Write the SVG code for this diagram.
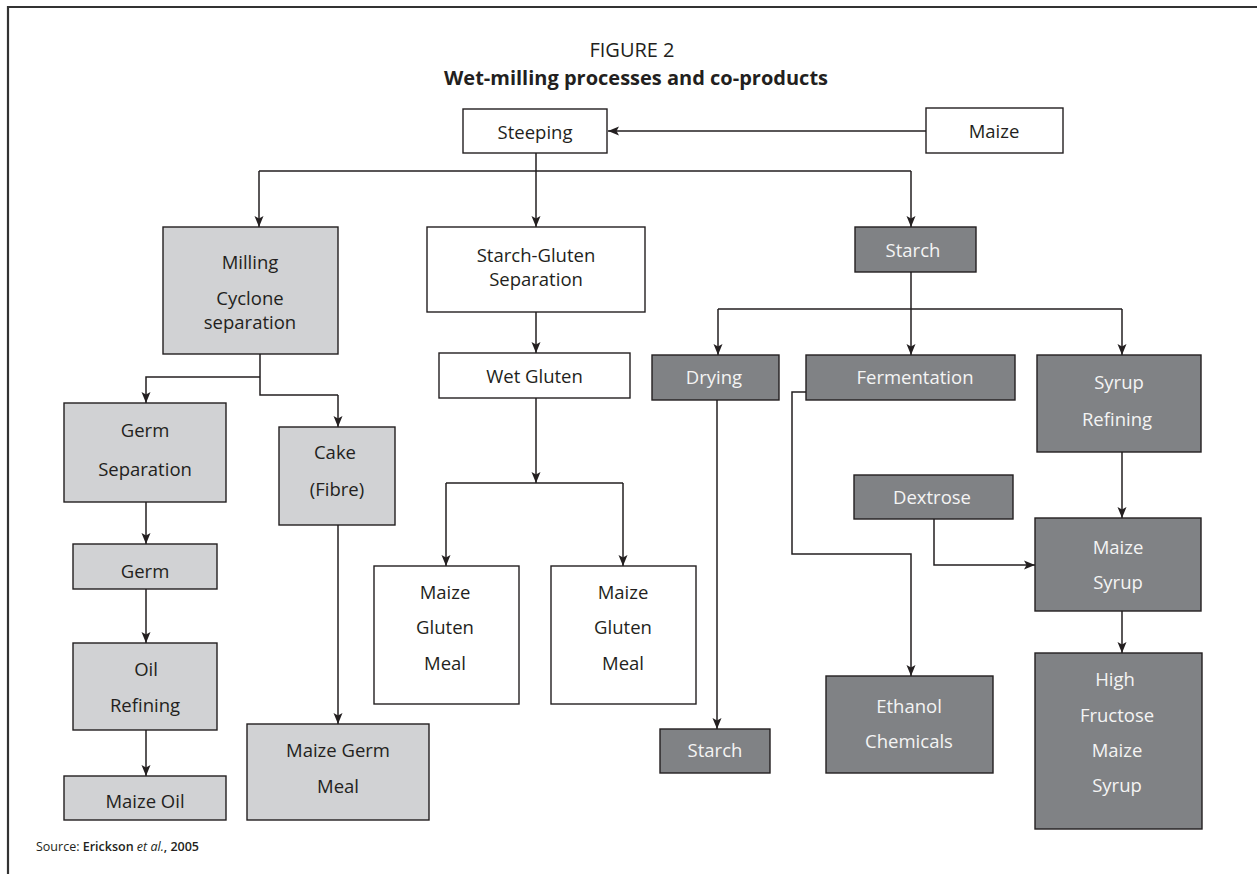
<svg xmlns="http://www.w3.org/2000/svg" width="1257" height="874" viewBox="0 0 1257 874">
  <style>
    text { font-family: "Open Sans", "Noto Sans", "DejaVu Sans", sans-serif; font-size: 18.5px; text-anchor: middle; fill: #231f20; }
    .title { font-size: 20px; }
    .box { stroke: #231f20; stroke-width: 1.4; }
    .white { fill: #ffffff; }
    .light { fill: #d1d2d4; }
    .dark { fill: #808285; }
    .dark-node text { fill: #f4f4f4; }
    .conn { fill: none; stroke: #231f20; stroke-width: 1.5; }
    .arrow { marker-end: url(#head); }
    .frame { fill: none; stroke: #333333; stroke-width: 2.2; }
  </style>
  <defs>
    <marker id="head" viewBox="0 0 12 10" markerWidth="12" markerHeight="10" refX="11" refY="5" orient="auto" markerUnits="userSpaceOnUse">
      <path d="M0,0.5 L11,5 L0,9.5 L2.5,5 z" fill="#231f20"/>
    </marker>
  </defs>

  <rect width="1257" height="874" fill="#ffffff"/>
  <path class="frame" d="M8,874 V7 H1257"/>

  <!-- Title -->
  <text class="title" x="632" y="57">FIGURE 2</text>
  <text class="title" x="636" y="85" font-weight="bold">Wet-milling processes and co-products</text>

  <!-- Connectors -->
  <g id="connectors">
    <path class="conn arrow" d="M926,131 H608"/>
    <path class="conn" d="M536,153 V171 M259,171 H911"/>
    <path class="conn arrow" d="M259,171 V227"/>
    <path class="conn arrow" d="M536,171 V227"/>
    <path class="conn arrow" d="M911,171 V227"/>
    <path class="conn arrow" d="M536,312 V353"/>
    <path class="conn arrow" d="M536,398 V483"/>
    <path class="conn" d="M446,483 H623"/>
    <path class="conn arrow" d="M446,483 V566"/>
    <path class="conn arrow" d="M623,483 V566"/>
    <path class="conn" d="M260,354 V395 H338"/>
    <path class="conn arrow" d="M338,395 V427"/>
    <path class="conn arrow" d="M260,377 H146 V403"/>
    <path class="conn arrow" d="M146,502 V544"/>
    <path class="conn arrow" d="M146,589 V643"/>
    <path class="conn arrow" d="M146,730 V776"/>
    <path class="conn arrow" d="M338,525 V724"/>
    <path class="conn" d="M911,272 V309 M718,309 H1122"/>
    <path class="conn arrow" d="M718,309 V355"/>
    <path class="conn arrow" d="M911,309 V355"/>
    <path class="conn arrow" d="M1122,309 V355"/>
    <path class="conn arrow" d="M717,400 V729"/>
    <path class="conn arrow" d="M806,392 H792 V554 H911 V676"/>
    <path class="conn arrow" d="M934,519 V565 H1035"/>
    <path class="conn arrow" d="M1122,452 V518"/>
    <path class="conn arrow" d="M1122,611 V653"/>
  </g>

  <!-- Nodes -->
  <g id="steeping">
    <rect class="box white" x="463" y="109" width="144" height="44"/>
    <text x="535" y="139">Steeping</text>
  </g>
  <g id="maize">
    <rect class="box white" x="926" y="108" width="137" height="45"/>
    <text x="994" y="138">Maize</text>
  </g>
  <g id="milling">
    <rect class="box light" x="163" y="227" width="175" height="127"/>
    <text x="250" y="269">Milling</text>
    <text x="250" y="305">Cyclone</text>
    <text x="250" y="329">separation</text>
  </g>
  <g id="starch-gluten-separation">
    <rect class="box white" x="427" y="227" width="218" height="85"/>
    <text x="536" y="262">Starch-Gluten</text>
    <text x="536" y="286">Separation</text>
  </g>
  <g id="starch" class="dark-node">
    <rect class="box dark" x="855" y="227" width="121" height="45"/>
    <text x="913" y="257">Starch</text>
  </g>
  <g id="wet-gluten">
    <rect class="box white" x="439" y="353" width="191" height="45"/>
    <text x="534.5" y="383">Wet Gluten</text>
  </g>
  <g id="gluten-meal-1">
    <rect class="box white" x="374" y="566" width="145" height="138"/>
    <text x="445" y="599">Maize</text>
    <text x="445" y="634">Gluten</text>
    <text x="445" y="670">Meal</text>
  </g>
  <g id="gluten-meal-2">
    <rect class="box white" x="551" y="566" width="145" height="138"/>
    <text x="623" y="599">Maize</text>
    <text x="623" y="634">Gluten</text>
    <text x="623" y="670">Meal</text>
  </g>
  <g id="germ-separation">
    <rect class="box light" x="64" y="403" width="162" height="99"/>
    <text x="145" y="437">Germ</text>
    <text x="145" y="476">Separation</text>
  </g>
  <g id="cake">
    <rect class="box light" x="279" y="427" width="116" height="98"/>
    <text x="335" y="459">Cake</text>
    <text x="337" y="496">(Fibre)</text>
  </g>
  <g id="germ">
    <rect class="box light" x="73" y="544" width="144" height="45"/>
    <text x="145" y="578">Germ</text>
  </g>
  <g id="oil-refining">
    <rect class="box light" x="73" y="643" width="144" height="87"/>
    <text x="146" y="676">Oil</text>
    <text x="145" y="712">Refining</text>
  </g>
  <g id="maize-oil">
    <rect class="box light" x="64" y="776" width="162" height="44"/>
    <text x="145" y="808">Maize Oil</text>
  </g>
  <g id="maize-germ-meal">
    <rect class="box light" x="247" y="724" width="182" height="96"/>
    <text x="338" y="757">Maize Germ</text>
    <text x="338" y="793">Meal</text>
  </g>
  <g id="drying" class="dark-node">
    <rect class="box dark" x="652" y="355" width="127" height="45"/>
    <text x="714" y="384">Drying</text>
  </g>
  <g id="fermentation" class="dark-node">
    <rect class="box dark" x="806" y="355" width="209" height="45"/>
    <text x="915" y="384">Fermentation</text>
  </g>
  <g id="syrup-refining" class="dark-node">
    <rect class="box dark" x="1037" y="355" width="164" height="97"/>
    <text x="1119" y="389">Syrup</text>
    <text x="1117" y="426">Refining</text>
  </g>
  <g id="dextrose" class="dark-node">
    <rect class="box dark" x="854" y="475" width="159" height="44"/>
    <text x="932" y="504">Dextrose</text>
  </g>
  <g id="maize-syrup" class="dark-node">
    <rect class="box dark" x="1035" y="518" width="166" height="93"/>
    <text x="1118" y="554">Maize</text>
    <text x="1118" y="589">Syrup</text>
  </g>
  <g id="starch-product" class="dark-node">
    <rect class="box dark" x="660" y="729" width="110" height="44"/>
    <text x="715" y="757">Starch</text>
  </g>
  <g id="ethanol-chemicals" class="dark-node">
    <rect class="box dark" x="826" y="676" width="167" height="97"/>
    <text x="909" y="713">Ethanol</text>
    <text x="909" y="748">Chemicals</text>
  </g>
  <g id="hfms" class="dark-node">
    <rect class="box dark" x="1035" y="653" width="167" height="176"/>
    <text x="1115" y="686">High</text>
    <text x="1117" y="722">Fructose</text>
    <text x="1117" y="757">Maize</text>
    <text x="1117" y="792">Syrup</text>
  </g>

  <!-- Source line -->
  <text x="36" y="851" style="text-anchor:start; font-size:12.5px">Source: <tspan font-weight="600">Erickson</tspan> <tspan font-style="italic">et al.</tspan><tspan font-weight="600">, 2005</tspan></text>
</svg>
